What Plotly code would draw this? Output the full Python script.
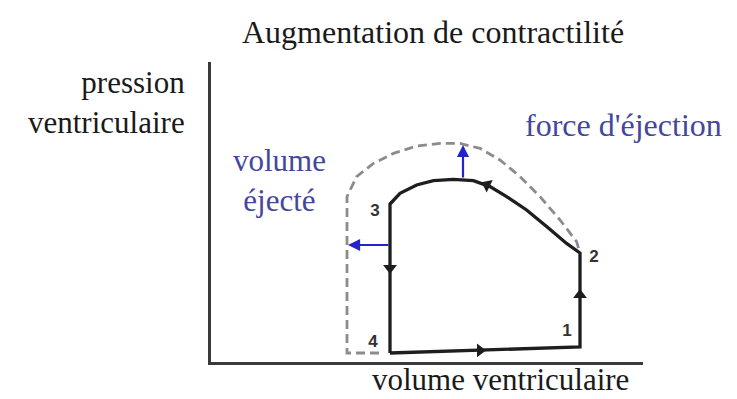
import plotly.graph_objects as go

# Pressure-volume loop (volume in arbitrary units, pressure in arbitrary units)
# Baseline loop: 4 -> 1 -> 2 -> (ejection curve) -> 3 -> 4
base_volume = [89.5, 184.5, 184.5, 177.8, 167.8, 157.8, 147.8, 139.5, 131.2, 121.2,
               111.2, 102.8, 94.5, 89.5, 89.5]
base_pressure = [4.5, 7.5, 54.5, 59.3, 67.7, 76.0, 82.7, 87.7, 90.7, 91.3,
                 90.7, 88.5, 84.3, 79.0, 4.5]

# Loop with increased contractility (dashed)
contr_volume = [84.0, 68.0, 68.0, 72.8, 81.2, 91.2, 102.8, 114.5, 124.5, 134.5,
                144.5, 154.5, 164.5, 174.5, 182.8, 184.5]
contr_pressure = [4.5, 4.5, 82.7, 92.7, 99.3, 104.3, 108.0, 109.3, 109.3, 106.8,
                  101.0, 92.7, 82.7, 71.0, 60.2, 54.5]

# Direction arrowheads along the baseline loop
dir_volume = [89.5, 134.5, 184.5, 138.0]
dir_pressure = [47.0, 5.8, 33.5, 88.5]
dir_symbols = ["triangle-down", "triangle-right", "triangle-up", "triangle-left"]
dir_angles = [0, 0, 0, 26]

# Numbered points of the cycle
point_labels = ["1", "2", "3", "4"]
point_volume = [178.0, 191.5, 82.0, 81.0]
point_pressure = [15.0, 52.0, 75.0, 9.5]

# Shift arrows: (start volume, start pressure, end volume, end pressure)
shift_arrows = [
    (126.0, 91.5, 126.0, 108.5),   # force d'éjection
    (89.5, 58.5, 68.5, 58.5),      # volume éjecté
]

SERIF = "Liberation Serif"
BLUE_TEXT = "#44479c"
BLUE_ARROW = "#2323c8"

fig = go.Figure()

fig.add_trace(go.Scatter(
    x=contr_volume, y=contr_pressure, mode="lines",
    line=dict(color="#8c8c8c", width=2.8, dash="9px,5px"),
    hoverinfo="skip", showlegend=False,
))

fig.add_trace(go.Scatter(
    x=base_volume, y=base_pressure, mode="lines",
    line=dict(color="#1e1e1e", width=3.3),
    hoverinfo="skip", showlegend=False,
))

fig.add_trace(go.Scatter(
    x=dir_volume, y=dir_pressure, mode="markers",
    marker=dict(symbol=dir_symbols, angle=dir_angles, size=12, color="#1e1e1e",
                line=dict(width=0)),
    hoverinfo="skip", showlegend=False,
))

fig.add_trace(go.Scatter(
    x=point_volume, y=point_pressure, mode="text", text=point_labels,
    textfont=dict(family="Arial", size=17, color="#333333", weight="bold"),
    hoverinfo="skip", showlegend=False,
))

annotations = []
for x0, y0, x1, y1 in shift_arrows:
    annotations.append(dict(
        x=x1, y=y1, ax=x0, ay=y0, xref="x", yref="y", axref="x", ayref="y",
        text="", showarrow=True, arrowhead=2, arrowsize=1.1, arrowwidth=2.2,
        arrowcolor=BLUE_ARROW,
    ))

annotations += [
    dict(text="Augmentation de contractilité", x=0.514, y=1.10, xref="paper", yref="paper",
         showarrow=False, xanchor="center", yanchor="middle",
         font=dict(family=SERIF, size=32, color="#1a1a1a")),
    dict(text="pression<br>ventriculaire", x=-0.055, y=0.865, xref="paper", yref="paper",
         showarrow=False, xanchor="right", yanchor="middle", align="right",
         font=dict(family=SERIF, size=31, color="#1a1a1a")),
    dict(text="volume ventriculaire", x=0.67, y=-0.1233, xref="paper", yref="paper",
         showarrow=False, xanchor="center", yanchor="bottom",
         font=dict(family=SERIF, size=31, color="#1a1a1a")),
    dict(text="volume<br>éjecté", x=34, y=91, xref="x", yref="y",
         showarrow=False, xanchor="center", yanchor="middle", align="center",
         font=dict(family=SERIF, size=31, color=BLUE_TEXT)),
    dict(text="force d'éjection", x=206, y=118.5, xref="x", yref="y",
         showarrow=False, xanchor="center", yanchor="middle",
         font=dict(family=SERIF, size=32, color=BLUE_TEXT)),
]

fig.update_layout(
    width=737, height=399,
    margin=dict(l=211, r=94, t=62, b=37),
    paper_bgcolor="white", plot_bgcolor="white",
    annotations=annotations,
    xaxis=dict(range=[0, 216], showgrid=False, zeroline=False, showticklabels=False,
               ticks="", showline=True, linecolor="#3a3a3a", linewidth=3),
    yaxis=dict(range=[0, 150], showgrid=False, zeroline=False, showticklabels=False,
               ticks="", showline=True, linecolor="#3a3a3a", linewidth=3),
)

fig.write_html("out.html")
